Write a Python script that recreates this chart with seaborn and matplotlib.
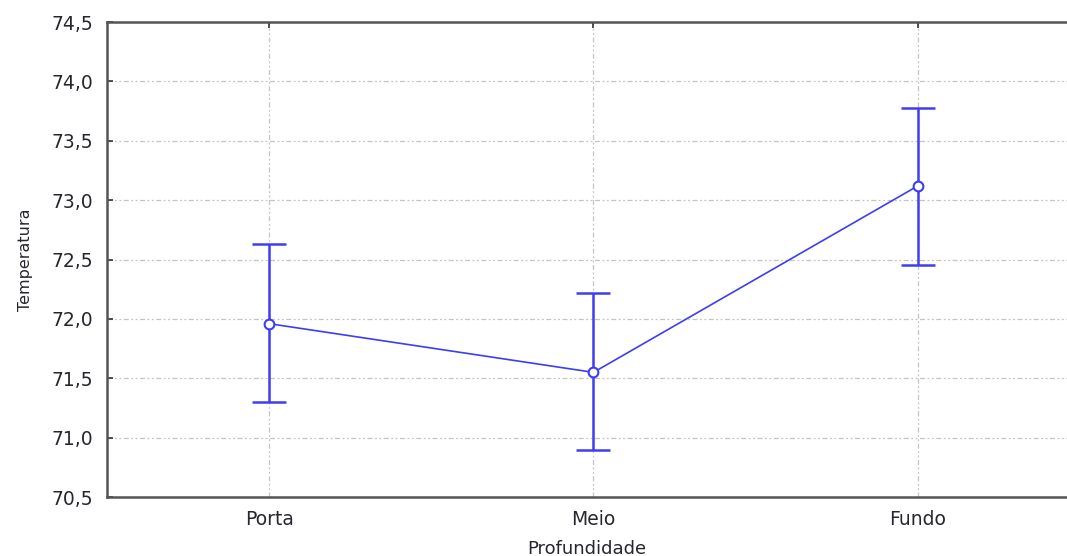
import matplotlib
matplotlib.use("Agg")
import matplotlib.pyplot as plt
from matplotlib.ticker import FuncFormatter, MultipleLocator
import seaborn as sns
import pandas as pd

# Mean temperature by depth position, with interval bounds
categories = ["Porta", "Meio", "Fundo"]
means = [71.96, 71.55, 73.12]
lower = [71.30, 70.90, 72.45]
upper = [72.63, 72.22, 73.78]

df = pd.DataFrame({"Profundidade": categories, "Temperatura": means})

sns.set_theme(style="white")
plt.rcParams["font.family"] = ["DejaVu Sans"]

BLUE = "#3d3df2"
TEXT = "#26262e"

fig = plt.figure(figsize=(10.67, 5.56), dpi=100)
ax = fig.add_axes([0.1003, 0.106, 0.8997, 0.8544])

# Interval bars at the categorical positions used by pointplot
pos = list(range(len(categories)))
ax.errorbar(pos, means,
            yerr=[[m - lo for m, lo in zip(means, lower)],
                  [hi - m for m, hi in zip(means, upper)]],
            fmt="none", ecolor=BLUE, elinewidth=1.8, capsize=12,
            capthick=1.8, zorder=3)

sns.pointplot(data=df, x="Profundidade", y="Temperatura", order=categories,
              errorbar=None, color=BLUE, markers="o", linestyles="-",
              linewidth=1.2, markersize=7, markerfacecolor="white",
              markeredgecolor=BLUE, markeredgewidth=1.5, ax=ax, zorder=4)

ax.set_xlim(-0.5, 2.46)
ax.set_ylim(70.5, 74.5)
ax.yaxis.set_major_locator(MultipleLocator(0.5))
ax.yaxis.set_major_formatter(FuncFormatter(lambda v, _: f"{v:.1f}".replace(".", ",")))

ax.grid(True, which="major", color="#c4c4c4",
        linestyle=(0, (4, 2, 1.5, 2, 1.5, 2)), linewidth=0.9)
ax.set_axisbelow(True)

for side in ("left", "bottom", "top"):
    ax.spines[side].set_visible(True)
    ax.spines[side].set_color("#555555")
    ax.spines[side].set_linewidth(1.8)
ax.spines["right"].set_visible(False)

ax.tick_params(axis="both", direction="in", length=4, width=1.2, color="#333333",
               labelsize=13.5, labelcolor=TEXT, pad=7)
ax.tick_params(axis="x", top=True, pad=9)
ax.tick_params(axis="y", left=True, pad=10)

ax.set_xlabel("Profundidade", fontsize=13, color=TEXT, labelpad=8)
ax.set_ylabel("Temperatura", fontsize=11.5, color=TEXT)
ax.yaxis.set_label_coords(-0.077, 0.5)

fig.savefig("out.png", dpi=100)
